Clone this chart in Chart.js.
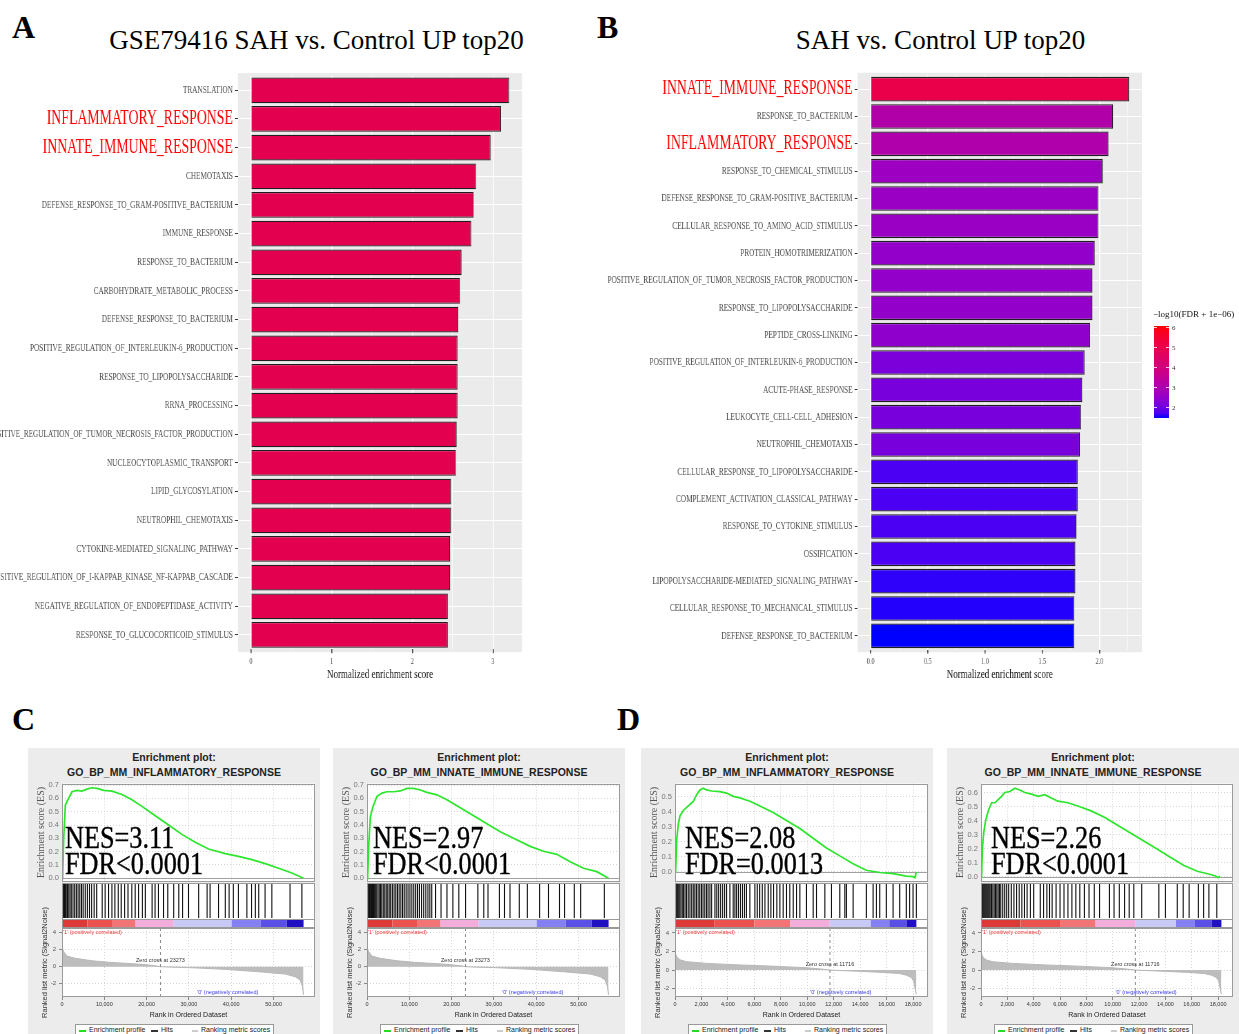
<!DOCTYPE html>
<html>
<head>
<meta charset="utf-8">
<script src="https://cdn.jsdelivr.net/npm/chart.js@4.4.1/dist/chart.umd.min.js"></script>
<style>
  html, body { margin: 0; padding: 0; background: #fff; }
  body { position: relative; width: 1239px; height: 1034px; overflow: hidden; }
  .gsea-bg { position: absolute; top: 748px; width: 292px; height: 286px; background: #ececec; }
  .legend { position: absolute; top: 1024px; height: 14px; width: 197px; border: 1px solid #999; background: #fff;
            font: 7px "Liberation Sans", Arial, sans-serif; color: #222; }
  .legend span { position: absolute; white-space: nowrap; }
</style>
</head>
<body>
<script>
// ---------- panel A: GSE79416 SAH vs. Control UP top20 ----------
const termsA = ['TRANSLATION', 'INFLAMMATORY_RESPONSE', 'INNATE_IMMUNE_RESPONSE', 'CHEMOTAXIS',
  'DEFENSE_RESPONSE_TO_GRAM-POSITIVE_BACTERIUM', 'IMMUNE_RESPONSE', 'RESPONSE_TO_BACTERIUM',
  'CARBOHYDRATE_METABOLIC_PROCESS', 'DEFENSE_RESPONSE_TO_BACTERIUM',
  'POSITIVE_REGULATION_OF_INTERLEUKIN-6_PRODUCTION', 'RESPONSE_TO_LIPOPOLYSACCHARIDE', 'RRNA_PROCESSING',
  'POSITIVE_REGULATION_OF_TUMOR_NECROSIS_FACTOR_PRODUCTION', 'NUCLEOCYTOPLASMIC_TRANSPORT',
  'LIPID_GLYCOSYLATION', 'NEUTROPHIL_CHEMOTAXIS', 'CYTOKINE-MEDIATED_SIGNALING_PATHWAY',
  'POSITIVE_REGULATION_OF_I-KAPPAB_KINASE_NF-KAPPAB_CASCADE',
  'NEGATIVE_REGULATION_OF_ENDOPEPTIDASE_ACTIVITY', 'RESPONSE_TO_GLUCOCORTICOID_STIMULUS'];
const nesA = [3.20, 3.10, 2.97, 2.79, 2.76, 2.73, 2.61, 2.59, 2.57, 2.56, 2.56, 2.56, 2.55, 2.54,
  2.48, 2.48, 2.47, 2.47, 2.44, 2.44];
const xTicksA = [0, 0.5, 1, 1.5, 2, 2.5, 3];

// ---------- panel B: SAH vs. Control UP top20 ----------
const termsB = ['INNATE_IMMUNE_RESPONSE', 'RESPONSE_TO_BACTERIUM', 'INFLAMMATORY_RESPONSE',
  'RESPONSE_TO_CHEMICAL_STIMULUS', 'DEFENSE_RESPONSE_TO_GRAM-POSITIVE_BACTERIUM',
  'CELLULAR_RESPONSE_TO_AMINO_ACID_STIMULUS', 'PROTEIN_HOMOTRIMERIZATION',
  'POSITIVE_REGULATION_OF_TUMOR_NECROSIS_FACTOR_PRODUCTION', 'RESPONSE_TO_LIPOPOLYSACCHARIDE',
  'PEPTIDE_CROSS-LINKING', 'POSITIVE_REGULATION_OF_INTERLEUKIN-6_PRODUCTION', 'ACUTE-PHASE_RESPONSE',
  'LEUKOCYTE_CELL-CELL_ADHESION', 'NEUTROPHIL_CHEMOTAXIS', 'CELLULAR_RESPONSE_TO_LIPOPOLYSACCHARIDE',
  'COMPLEMENT_ACTIVATION_CLASSICAL_PATHWAY', 'RESPONSE_TO_CYTOKINE_STIMULUS', 'OSSIFICATION',
  'LIPOPOLYSACCHARIDE-MEDIATED_SIGNALING_PATHWAY', 'CELLULAR_RESPONSE_TO_MECHANICAL_STIMULUS',
  'DEFENSE_RESPONSE_TO_BACTERIUM'];
const nesB = [2.26, 2.12, 2.08, 2.03, 1.99, 1.99, 1.96, 1.94, 1.94, 1.92, 1.87, 1.85, 1.84, 1.83,
  1.81, 1.81, 1.80, 1.79, 1.79, 1.78, 1.78];
const fdrScoreB = [5.00, 3.11, 3.06, 2.65, 2.60, 2.60, 2.46, 2.46, 2.46, 2.42, 2.14, 2.09, 2.09, 2.09,
  1.68, 1.68, 1.68, 1.68, 1.54, 1.50, 1.45];
const xTicksB = [0, 0.25, 0.5, 0.75, 1, 1.25, 1.5, 1.75, 2, 2.25];
const fdrLimits = [1.45, 6.05];
const fdrLegendTicks = [6, 5, 4, 3, 2];

const highlighted = ['INFLAMMATORY_RESPONSE', 'INNATE_IMMUNE_RESPONSE'];

// ---------- GSEA (C: GSE79416, D: second dataset) ----------
const rankTicksC = [0, 10000, 20000, 30000, 40000, 50000];
const rankTicksD = [0, 2000, 4000, 6000, 8000, 10000, 12000, 14000, 16000, 18000];
const metricTicks = [-2, 0, 2, 4];

const metricRankC = [0, 394, 1181, 3150, 7087, 11024, 14961, 18898, 22047, 23273, 26000, 30709, 38583,
  46457, 52756, 55118, 56299, 56850, 57087];
const metricValC = [2.35, 1.76, 1.25, 0.98, 0.70, 0.52, 0.40, 0.28, 0.12, 0, -0.05, -0.12, -0.31,
  -0.59, -0.86, -1.18, -1.57, -2.35, -3.3];
const metricRankD = [0, 126, 378, 881, 2391, 4908, 7425, 9942, 11000, 11716, 13718, 15731, 16990,
  17493, 17871, 18047, 18198, 18249];
const metricValD = [1.9, 1.45, 1.1, 0.9, 0.72, 0.55, 0.42, 0.25, 0.12, 0, -0.12, -0.25, -0.38,
  -0.55, -0.8, -1.2, -2.3, -2.6];

const bandEdgesC = [0, 6000, 12000, 17400, 26400, 40100, 47000, 53100, 57100];
const bandEdgesD = [0, 3000, 6000, 8700, 11700, 14800, 16200, 17500, 18250];
const bandColors = ['#dc3a38', '#ea5250', '#f27474', '#f3addb', '#c9c9f5', '#8580f2', '#5a50e6', '#2010c2'];

const esRankC1 = [0, 157, 394, 787, 1417, 2362, 3543, 4724, 5906, 7087, 8268, 9843, 11811, 14173,
  16535, 18898, 22047, 25197, 28346, 31496, 34646, 38583, 41732, 44882, 48031, 51181, 54331, 57087];
const esValC1 = [0, 0.02, 0.29, 0.55, 0.59, 0.65, 0.66, 0.655, 0.67, 0.68, 0.675, 0.66, 0.655, 0.63,
  0.59, 0.54, 0.47, 0.40, 0.33, 0.27, 0.22, 0.185, 0.165, 0.14, 0.11, 0.075, 0.04, 0];
const hitsC1 = [0, 150, 300, 450, 600, 800, 1000, 1300, 1600, 1900, 2200, 2600, 3000, 3400, 3800,
  4200, 4600, 5000, 5500, 6000, 6500, 7000, 7600, 8200, 9500, 10200, 11000, 11800, 12500, 13300,
  14000, 14800, 15600, 16500, 17300, 18100, 19000, 19700, 21300, 22000, 22800, 24000, 25000, 26400,
  27600, 28500, 29900, 32300, 34300, 35000, 37000, 38600, 39500, 40500, 41700, 43700, 44800, 45700,
  46500, 48000, 49600, 53900, 56700];

const esRankC2 = [0, 157, 394, 787, 1417, 2362, 3543, 4724, 6299, 7874, 9449, 11024, 12598, 14173,
  16535, 18898, 22047, 25197, 28346, 31496, 34646, 38583, 41732, 44882, 48031, 51181, 54331, 57087];
const esValC2 = [0, 0.02, 0.24, 0.46, 0.54, 0.615, 0.64, 0.65, 0.65, 0.656, 0.675, 0.675, 0.663,
  0.645, 0.627, 0.59, 0.53, 0.47, 0.41, 0.35, 0.30, 0.24, 0.203, 0.18, 0.125, 0.075, 0.05, 0];
const hitsC2 = [0, 200, 400, 600, 800, 1050, 1300, 1550, 1800, 2050, 2300, 2600, 2900, 3200, 3500,
  3850, 4200, 4550, 4900, 5250, 5600, 6000, 6400, 6800, 7200, 7600, 8000, 8400, 8800, 9250, 9700,
  10150, 10600, 11050, 11500, 11950, 12400, 12900, 13400, 13900, 14400, 14850, 15300, 16200, 17500,
  18900, 20300, 21700, 23300, 26200, 27600, 28600, 31300, 32500, 33800, 36000, 37900, 40800, 42900,
  45500, 46700, 49000, 50500, 56100];

const esRankD1 = [0, 50, 126, 252, 378, 629, 1007, 1384, 1636, 1888, 2139, 2391, 2769, 3398, 3901,
  4405, 4908, 5663, 6418, 7425, 8432, 9439, 10446, 11452, 12459, 13466, 14473, 15480, 16486, 17493,
  17997, 18148, 18249];
const esValD1 = [0, 0.01, 0.21, 0.32, 0.375, 0.41, 0.44, 0.47, 0.515, 0.547, 0.558, 0.547, 0.54,
  0.536, 0.526, 0.504, 0.494, 0.472, 0.44, 0.397, 0.343, 0.29, 0.225, 0.16, 0.107, 0.054, 0.011,
  -0.004, -0.011, -0.028, -0.032, -0.039, 0];
const hitsD1 = [0, 60, 130, 200, 280, 360, 450, 550, 650, 760, 870, 1000, 1130, 1260, 1380, 1500,
  1620, 1750, 1870, 2000, 2120, 2250, 2380, 2500, 2640, 2770, 3020, 3160, 3300, 3450, 3600, 3750,
  3900, 4150, 4400, 4530, 4660, 4800, 4950, 5100, 5250, 5400, 5660, 6040, 6220, 6400, 6600, 6800,
  7050, 7250, 7450, 7700, 7930, 8180, 8430, 8680, 8940, 9190, 9440, 9940, 10450, 10700, 11330,
  11830, 12460, 12840, 12960, 13470, 14470, 14980, 15230, 15480, 15980, 16490, 16990, 17490, 17740,
  18000, 18250];

const esRankD2 = [0, 50, 101, 201, 353, 554, 806, 1058, 1309, 1561, 1813, 2191, 2568, 2946, 3324,
  3827, 4331, 4835, 5338, 5842, 6597, 7353, 8360, 9367, 10374, 11381, 12388, 13396, 14403, 15410,
  16417, 17425, 17802, 17978, 18129];
const esValD2 = [0, 0.023, 0.195, 0.31, 0.40, 0.47, 0.527, 0.527, 0.55, 0.572, 0.60, 0.607, 0.63,
  0.618, 0.60, 0.588, 0.572, 0.584, 0.561, 0.538, 0.527, 0.504, 0.469, 0.424, 0.366, 0.309, 0.252,
  0.195, 0.137, 0.08, 0.039, 0.016, 0.005, -0.007, 0.005];
const hitsD2 = [0, 50, 100, 175, 250, 325, 400, 475, 550, 625, 700, 800, 900, 1000, 1100, 1200,
  1300, 1400, 1500, 1650, 1800, 1950, 2100, 2300, 2500, 2700, 2900, 3100, 3300, 3500, 3750, 4000,
  4500, 4750, 5000, 5200, 5400, 5700, 6000, 6300, 6600, 6900, 7200, 7500, 7850, 8200, 8600, 9000,
  9750, 10100, 10500, 10900, 11250, 11600, 12200, 13500, 14000, 14900, 15350, 15800, 16500, 16900,
  17300, 17900];

const esTicksC = [0, 0.1, 0.2, 0.3, 0.4, 0.5, 0.6, 0.7];
const esTicksD1 = [0, 0.1, 0.2, 0.3, 0.4, 0.5];
const esTicksD2 = [0, 0.1, 0.2, 0.3, 0.4, 0.5, 0.6];

const posLabel = "'1' (positively correlated)";
const negLabel = "'0' (negatively correlated)";

// ---------- helpers ----------
const SERIF = 'Liberation Serif';
const SANS = 'Liberation Sans';

function place(el, left, top) {
  el.style.position = 'absolute';
  el.style.left = left + 'px';
  el.style.top = top + 'px';
  document.body.appendChild(el);
  return el;
}
function addCanvas(left, top, w, h) {
  const c = document.createElement('canvas');
  c.width = w; c.height = h;
  c.style.width = w + 'px'; c.style.height = h + 'px';
  return place(c, left, top);
}
function addText(txt, left, top, css) {
  const d = document.createElement('div');
  d.textContent = txt;
  d.style.cssText = 'white-space:nowrap;line-height:1;' + css;
  return place(d, left, top);
}
function baseOptions(extra) {
  const o = Object.assign({responsive: false, animation: false, devicePixelRatio: 1, events: []}, extra);
  o.layout = Object.assign({autoPadding: false}, extra.layout || {});
  o.plugins = Object.assign({legend: {display: false}, tooltip: {enabled: false}}, extra.plugins || {});
  return o;
}

// ggplot-like Lab gradient blue -> red
const lin = c => c <= 0.04045 ? c / 12.92 : Math.pow((c + 0.055) / 1.055, 2.4);
const gam = c => c <= 0.0031308 ? 12.92 * c : 1.055 * Math.pow(c, 1 / 2.4) - 0.055;
function toLab(rgb) {
  const [r, g, b] = rgb.map(v => lin(v / 255));
  const X = (0.4124 * r + 0.3576 * g + 0.1805 * b) / 0.95047;
  const Y = 0.2126 * r + 0.7152 * g + 0.0722 * b;
  const Z = (0.0193 * r + 0.1192 * g + 0.9505 * b) / 1.08883;
  const f = t => t > 0.008856 ? Math.cbrt(t) : 7.787 * t + 16 / 116;
  return [116 * f(Y) - 16, 500 * (f(X) - f(Y)), 200 * (f(Y) - f(Z))];
}
function fromLab([L, a, b]) {
  const fy = (L + 16) / 116, fx = fy + a / 500, fz = fy - b / 200;
  const inv = t => t ** 3 > 0.008856 ? t ** 3 : (t - 16 / 116) / 7.787;
  const X = inv(fx) * 0.95047, Y = inv(fy), Z = inv(fz) * 1.08883;
  const rgb = [3.2406 * X - 1.5372 * Y - 0.4986 * Z, -0.9689 * X + 1.8758 * Y + 0.0415 * Z,
    0.0557 * X - 0.2040 * Y + 1.0570 * Z];
  return 'rgb(' + rgb.map(c => Math.round(255 * Math.min(1, Math.max(0, gam(Math.max(0, c)))))).join(',') + ')';
}
const labLow = toLab([0, 0, 255]);
const labHigh = toLab([255, 0, 0]);
function fdrColor(v) {
  const t = Math.min(1, Math.max(0, (v - fdrLimits[0]) / (fdrLimits[1] - fdrLimits[0])));
  return fromLab(labLow.map((l, i) => l + (labHigh[i] - l) * t));
}

// ---------- plugins ----------
const panelBg = {
  id: 'panelBg',
  beforeDraw(chart) {
    const {ctx, chartArea: a} = chart;
    const ext = (a.bottom - a.top) / chart.data.labels.length * 0.1;
    ctx.save();
    ctx.fillStyle = '#ebebeb';
    ctx.fillRect(a.left, a.top - ext, a.right - a.left, a.bottom - a.top + 2 * ext);
    ctx.restore();
  }
};
const plotFrame = {
  id: 'plotFrame',
  beforeDraw(chart) {
    const {ctx, chartArea: a} = chart;
    ctx.save();
    ctx.fillStyle = '#fff';
    ctx.fillRect(a.left, a.top, a.width, a.height);
    ctx.restore();
  },
  afterDraw(chart) {
    const {ctx, chartArea: a} = chart;
    ctx.save();
    ctx.strokeStyle = '#9a9a9a';
    ctx.lineWidth = 1;
    ctx.strokeRect(Math.round(a.left) + 0.5, Math.round(a.top) + 0.5, Math.round(a.width) - 1, Math.round(a.height) - 1);
    ctx.restore();
  }
};
const zeroLine = {
  id: 'zeroLine',
  beforeDatasetsDraw(chart) {
    const {ctx, chartArea: a, scales: {y}} = chart;
    const py = Math.round(y.getPixelForValue(0)) + 0.5;
    ctx.save();
    ctx.strokeStyle = '#a0a0a0';
    ctx.lineWidth = 1;
    ctx.beginPath(); ctx.moveTo(a.left, py); ctx.lineTo(a.right, py); ctx.stroke();
    ctx.restore();
  }
};
const hitsSep = {
  id: 'hitsSep',
  afterDraw(chart) {
    const {ctx, chartArea: a, scales: {y}} = chart;
    const py = Math.round(y.getPixelForValue(0.2)) + 0.5;
    ctx.save();
    ctx.strokeStyle = '#9a9a9a';
    ctx.beginPath(); ctx.moveTo(a.left, py); ctx.lineTo(a.right, py); ctx.stroke();
    ctx.restore();
  }
};
const rankNotes = {
  id: 'rankNotes',
  afterDatasetsDraw(chart, args, o) {
    const {ctx, chartArea: a, scales: {x, y}} = chart;
    const zx = x.getPixelForValue(o.zero);
    ctx.save();
    ctx.strokeStyle = '#8a8a8a';
    ctx.setLineDash([3, 3]);
    ctx.beginPath(); ctx.moveTo(zx, a.top); ctx.lineTo(zx, a.bottom); ctx.stroke();
    ctx.setLineDash([]);
    ctx.font = '5.5px "Liberation Sans"';
    ctx.textBaseline = 'middle';
    ctx.fillStyle = '#333';
    ctx.textAlign = 'center';
    ctx.fillText('Zero cross at ' + o.zero, zx, y.getPixelForValue(0) - 6);
    ctx.fillStyle = '#ee3a3a';
    ctx.textAlign = 'left';
    ctx.fillText(posLabel, a.left + 1, a.top + 4);
    ctx.fillStyle = '#3a3ae6';
    ctx.textAlign = 'center';
    ctx.fillText(negLabel, a.left + a.width * 0.655, a.bottom - 5);
    ctx.restore();
  }
};

// ---------- bar panels (A, B) ----------
const SQUEEZE = 0.69;

function barPanel(cfg) {
  const wrap = document.createElement('div');
  wrap.style.cssText = `position:absolute;left:${cfg.pageLeft}px;top:60px;width:${cfg.pageW}px;height:630px;overflow:hidden`;
  document.body.appendChild(wrap);
  const cw = Math.round(cfg.pageW / SQUEEZE);
  const k = cfg.pageW / cw;
  const cv = document.createElement('canvas');
  cv.width = cw; cv.height = 630;
  cv.style.cssText = `display:block;width:${cw}px;height:630px;transform:scaleX(${k});transform-origin:0 0`;
  wrap.appendChild(cv);

  const axisW = (cfg.plotL - cfg.pageLeft) / k;
  const padR = cw - (cfg.plotR - cfg.pageLeft) / k;
  const isMajor = v => Math.abs(v / cfg.majorStep - Math.round(v / cfg.majorStep)) < 1e-6;
  const isHi = i => highlighted.includes(cfg.labels[i]);

  new Chart(cv, {
    type: 'bar',
    data: {
      labels: cfg.labels,
      datasets: [{
        data: cfg.values,
        backgroundColor: cfg.colors,
        borderColor: '#1e1e1e',
        borderWidth: 1.3,
        barPercentage: 0.9,
        categoryPercentage: 1
      }]
    },
    options: baseOptions({
      indexAxis: 'y',
      layout: {padding: {top: cfg.plotT - 60, right: padR, bottom: 0, left: 0}},
      scales: {
        x: {
          type: 'linear', min: cfg.xMin, max: cfg.xMax,
          afterBuildTicks: a => { a.ticks = cfg.xTicks.map(v => ({value: v})); },
          ticks: {
            autoSkip: false, maxRotation: 0, padding: 3,
            callback: v => isMajor(v) ? cfg.fmt(v) : '',
            font: {family: SERIF, size: 9}, color: '#4d4d4d'
          },
          grid: {
            color: '#ffffff',
            lineWidth: c => (c.tick && isMajor(c.tick.value)) ? 1.6 : 0.8,
            tickColor: c => (c.tick && isMajor(c.tick.value)) ? '#333' : 'rgba(0,0,0,0)',
            tickWidth: 1.4, tickLength: 4
          },
          border: {display: false},
          title: {
            display: true, text: 'Normalized enrichment score',
            font: {family: SERIF, size: 13}, color: '#111', padding: {top: 0, bottom: 8}
          },
          afterFit: s => { s.height = 630 - (cfg.plotB - 60); }
        },
        y: {
          ticks: {
            autoSkip: false, padding: 3,
            font: c => isHi(c.index) ? {family: SERIF, size: 20, lineHeight: 1} : {family: SERIF, size: 10.5, lineHeight: 1},
            color: c => isHi(c.index) ? '#ff0000' : '#4d4d4d'
          },
          grid: {offset: false, color: '#ffffff', lineWidth: 1, tickColor: '#333', tickLength: 4.5},
          border: {display: false},
          afterFit: s => { s.width = axisW; }
        }
      }
    }),
    plugins: [panelBg]
  });
}

barPanel({
  pageLeft: 0, pageW: 530, plotL: 238, plotR: 522, plotT: 75.97, plotB: 649.3,
  labels: termsA, values: nesA, colors: termsA.map(() => '#e3004f'),
  xMin: -0.16, xMax: 3.36, xTicks: xTicksA, majorStep: 1, fmt: v => String(v)
});
barPanel({
  pageLeft: 580, pageW: 575, plotL: 857.7, plotR: 1142, plotT: 75.5, plotB: 649.5,
  labels: termsB, values: nesB, colors: fdrScoreB.map(fdrColor),
  xMin: -0.113, xMax: 2.373, xTicks: xTicksB, majorStep: 0.5, fmt: v => v.toFixed(1)
});

// colour bar legend for B
(function () {
  const top = 326, h = 92, left = 1154, w = 15;
  const stops = [];
  for (let i = 0; i <= 20; i++) {
    const v = fdrLimits[1] - (fdrLimits[1] - fdrLimits[0]) * i / 20;
    stops.push(fdrColor(v) + ' ' + (i * 5) + '%');
  }
  const bar = document.createElement('div');
  bar.style.cssText = `width:${w}px;height:${h}px;background:linear-gradient(to bottom, ${stops.join(',')})`;
  place(bar, left, top);
  fdrLegendTicks.forEach(v => {
    const y = top + (fdrLimits[1] - v) / (fdrLimits[1] - fdrLimits[0]) * h;
    [0, w - 3].forEach(dx => {
      const t = document.createElement('div');
      t.style.cssText = 'width:3px;height:1px;background:rgba(255,255,255,0.8)';
      place(t, left + dx, Math.round(y));
    });
    addText(String(v), 1172, y - 3.5, `font:7px "${SERIF}";color:#333`);
  });
  addText('\u2212log10(FDR + 1e\u221206)', 1153, 308.5, `font:9px "${SERIF}";color:#111`);
})();

// ---------- GSEA panels ----------
const setC = {rankMax: 59800, rankTicks: rankTicksC, metricRank: metricRankC, metricVal: metricValC,
  metricMin: -3.56, metricMax: 4.55, bandEdges: bandEdgesC, zero: 23273};
const setD = {rankMax: 19130, rankTicks: rankTicksD, metricRank: metricRankD, metricVal: metricValD,
  metricMin: -2.9, metricMax: 4.53, bandEdges: bandEdgesD, zero: 11716};

function gseaPanel(p, set) {
  const panelLeft = 28 + p.dx;
  const plotLeft = 62 + p.dx;
  const plotW = p.plotW || 253;
  const axisW = plotLeft - panelLeft;
  const padR = 292 - axisW - plotW;

  const bg = document.createElement('div');
  bg.className = 'gsea-bg';
  place(bg, panelLeft, 748);

  addText('Enrichment plot:', panelLeft + 146, 750.9, `font:bold 10.5px "${SANS}";color:#222;transform:translateX(-50%)`);
  addText(p.term, panelLeft + 146, 765.9, `font:bold 10.5px "${SANS}";color:#222;transform:translateX(-50%)`);

  const gridCol = '#d6d6d6';
  const xGrid = {
    type: 'linear', min: 0, max: set.rankMax,
    afterBuildTicks: a => { a.ticks = set.rankTicks.map(v => ({value: v})); }
  };

  // running enrichment score
  new Chart(addCanvas(panelLeft, 776, 292, 113), {
    type: 'line',
    data: {datasets: [{
      data: p.esRank.map((r, i) => ({x: r, y: p.esVal[i]})),
      borderColor: '#2ee62e', borderWidth: 1.7, pointRadius: 0, tension: 0, fill: false
    }]},
    options: baseOptions({
      layout: {padding: {top: 6, bottom: 6, right: padR, left: 0}},
      scales: {
        x: Object.assign({}, xGrid, {
          ticks: {display: false},
          grid: {color: gridCol, drawTicks: false},
          border: {display: false, dash: [1, 2]},
          afterFit: s => { s.height = 0; }
        }),
        y: {
          min: p.esMin, max: p.esMax,
          afterBuildTicks: a => { a.ticks = p.esTicks.map(v => ({value: v})); },
          ticks: {callback: v => v.toFixed(1), font: {family: SANS, size: 7.5}, color: '#777', padding: 3},
          grid: {color: gridCol, drawTicks: false},
          border: {display: false, dash: [1, 2]},
          title: {display: true, text: 'Enrichment score (ES)', font: {family: SERIF, size: 10}, color: '#555',
            padding: {top: 7.5, bottom: 0}},
          afterFit: s => { s.width = axisW; }
        }
      }
    }),
    plugins: [plotFrame, zeroLine]
  });

  // hits + ranking colour band
  new Chart(addCanvas(panelLeft, 883, 292, 45), {
    type: 'scatter',
    data: {datasets: [
      {
        data: set.bandEdges.map(x => ({x, y: 0.1})),
        showLine: true, borderWidth: 9, borderCapStyle: 'butt', pointRadius: 0,
        segment: {borderColor: c => bandColors[c.p0DataIndex]}
      },
      {
        data: p.hits.map(x => ({x, y: 0.6})),
        pointStyle: 'line', pointRotation: 90, pointRadius: 17,
        pointBorderColor: '#111', pointBorderWidth: 1.1, pointBackgroundColor: '#111'
      }
    ]},
    options: baseOptions({
      layout: {padding: {left: axisW, right: padR, top: 0, bottom: 0}},
      scales: {
        x: {display: false, min: 0, max: set.rankMax},
        y: {display: false, min: 0, max: 1}
      }
    }),
    plugins: [plotFrame, hitsSep]
  });

  // ranked list metric
  new Chart(addCanvas(panelLeft, 900, 292, 124), {
    type: 'line',
    data: {datasets: [{
      data: set.metricRank.map((r, i) => ({x: r, y: set.metricVal[i]})),
      borderColor: '#b8b8b8', borderWidth: 1, backgroundColor: '#bdbdbd',
      fill: 'origin', pointRadius: 0, tension: 0
    }]},
    options: baseOptions({
      layout: {padding: {top: 28, right: padR, bottom: 0, left: 0}},
      plugins: {rankNotes: {zero: set.zero}},
      scales: {
        x: Object.assign({}, xGrid, {
          ticks: {callback: v => v.toLocaleString('en-US'), font: {family: SANS, size: 5.5}, color: '#333',
            padding: 1, maxRotation: 0, autoSkip: false},
          grid: {color: gridCol, tickLength: 3, tickColor: '#888'},
          border: {display: false, dash: [1, 2]},
          title: {display: true, text: 'Rank in Ordered Dataset', font: {family: SANS, size: 7}, color: '#222',
            padding: {top: 0, bottom: 4.8}},
          afterFit: s => { s.height = 27; }
        }),
        y: {
          min: set.metricMin, max: set.metricMax,
          afterBuildTicks: a => { a.ticks = metricTicks.map(v => ({value: v})); },
          ticks: {font: {family: SANS, size: 6}, color: '#555', padding: 3},
          grid: {color: gridCol, tickLength: 3, tickColor: '#888'},
          border: {display: false, dash: [1, 2]},
          title: {display: true, text: 'Ranked list metric (Signal2Noise)', font: {family: SANS, size: 7.5}, color: '#333',
            padding: {top: 12.5, bottom: 0}},
          afterFit: s => { s.width = axisW; }
        }
      }
    }),
    plugins: [plotFrame, rankNotes]
  });

  // NES / FDR annotation
  const nesCss = `font:32px "${SERIF}";color:#000;transform:scaleX(0.82);transform-origin:0 0;-webkit-text-stroke:0.4px #000`;
  addText(p.nes, plotLeft + p.textDx, 819.2, nesCss);
  addText(p.fdr, plotLeft + p.textDx, 844.9, nesCss);

  // legend box
  const lg = document.createElement('div');
  lg.className = 'legend';
  lg.innerHTML =
    '<span style="left:3px;top:5px;width:7px;height:1.5px;background:#22dd22"></span>' +
    '<span style="left:13px;top:1px">Enrichment profile</span>' +
    '<span style="left:75px;top:5px;width:7px;height:1.5px;background:#333"></span>' +
    '<span style="left:85px;top:1px">Hits</span>' +
    '<span style="left:116px;top:5px;width:6px;height:1.5px;background:#ccc"></span>' +
    '<span style="left:125px;top:1px">Ranking metric scores</span>';
  place(lg, panelLeft + 47, 1024);
}

gseaPanel({dx: 0, term: 'GO_BP_MM_INFLAMMATORY_RESPONSE', nes: 'NES=3.11', fdr: 'FDR<0.0001', textDx: 3,
  esRank: esRankC1, esVal: esValC1, esMin: -0.024, esMax: 0.712, esTicks: esTicksC, hits: hitsC1}, setC);
gseaPanel({dx: 305, term: 'GO_BP_MM_INNATE_IMMUNE_RESPONSE', nes: 'NES=2.97', fdr: 'FDR<0.0001', textDx: 6,
  esRank: esRankC2, esVal: esValC2, esMin: -0.024, esMax: 0.712, esTicks: esTicksC, hits: hitsC2}, setC);
gseaPanel({dx: 613, term: 'GO_BP_MM_INFLAMMATORY_RESPONSE', nes: 'NES=2.08', fdr: 'FDR=0.0013', textDx: 10,
  esRank: esRankD1, esVal: esValD1, esMin: -0.064, esMax: 0.59, esTicks: esTicksD1, hits: hitsD1}, setD);
gseaPanel({dx: 919, plotW: 252, term: 'GO_BP_MM_INNATE_IMMUNE_RESPONSE', nes: 'NES=2.26', fdr: 'FDR<0.0001', textDx: 10,
  esRank: esRankD2, esVal: esValD2, esMin: -0.034, esMax: 0.664, esTicks: esTicksD2, hits: hitsD2}, setD);

// ---------- titles and panel letters ----------
const letterCss = `font:bold 32px "${SERIF}";color:#000`;
addText('A', 12, 9, letterCss);
addText('B', 597, 9, letterCss);
addText('C', 12, 701, letterCss);
addText('D', 617, 701, letterCss);
addText('GSE79416 SAH vs. Control UP top20', 316.5, 25, `font:27px "${SERIF}";color:#000;transform:translateX(-50%)`);
addText('SAH vs. Control UP top20', 940.5, 25, `font:27px "${SERIF}";color:#000;transform:translateX(-50%)`);
</script>
</body>
</html>
